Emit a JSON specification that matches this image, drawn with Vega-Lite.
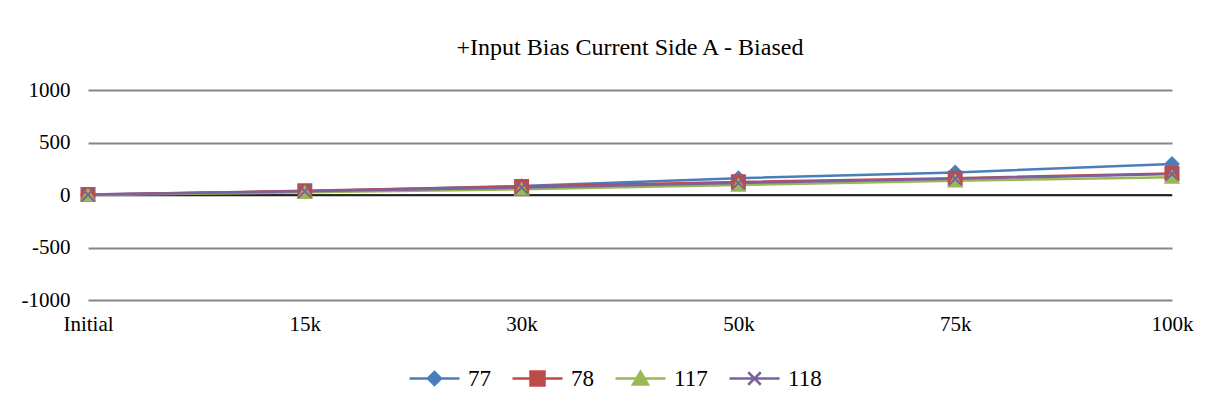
{
  "$schema": "https://vega.github.io/schema/vega-lite/v6.json",
  "width": 1084,
  "height": 210,
  "autosize": {"type": "none"},
  "padding": {"left": 88, "top": 90, "right": 40, "bottom": 108},
  "background": "white",
  "title": {"text": "+Input Bias Current Side A - Biased", "font": "Times New Roman", "fontSize": 24, "fontWeight": "normal", "color": "black", "anchor": "middle", "frame": "group", "offset": 19},
  "config": {"view": {"stroke": null}},
  "data": {"values": [
    {"stage": "Initial", "series": "77", "v": 5},
    {"stage": "15k", "series": "77", "v": 35},
    {"stage": "30k", "series": "77", "v": 85},
    {"stage": "50k", "series": "77", "v": 160},
    {"stage": "75k", "series": "77", "v": 215},
    {"stage": "100k", "series": "77", "v": 295},
    {"stage": "Initial", "series": "78", "v": 5},
    {"stage": "15k", "series": "78", "v": 40},
    {"stage": "30k", "series": "78", "v": 80},
    {"stage": "50k", "series": "78", "v": 125},
    {"stage": "75k", "series": "78", "v": 160},
    {"stage": "100k", "series": "78", "v": 205},
    {"stage": "Initial", "series": "117", "v": 0},
    {"stage": "15k", "series": "117", "v": 25},
    {"stage": "30k", "series": "117", "v": 55},
    {"stage": "50k", "series": "117", "v": 95},
    {"stage": "75k", "series": "117", "v": 135},
    {"stage": "100k", "series": "117", "v": 170},
    {"stage": "Initial", "series": "118", "v": 3},
    {"stage": "15k", "series": "118", "v": 35},
    {"stage": "30k", "series": "118", "v": 72},
    {"stage": "50k", "series": "118", "v": 115},
    {"stage": "75k", "series": "118", "v": 155},
    {"stage": "100k", "series": "118", "v": 200}
  ]},
  "resolve": {"scale": {"shape": "independent", "fill": "independent", "stroke": "independent"}},
  "layer": [
    {
      "data": {"values": [{"z": 0}]},
      "mark": {"type": "rule", "color": "black", "strokeWidth": 1.5},
      "encoding": {
        "y": {"field": "z", "type": "quantitative", "scale": {"domain": [-1000, 1000], "nice": false, "zero": false},
          "axis": {"values": [-1000, -500, 0, 500, 1000], "labelExpr": "datum.value < 0 ? '-' + abs(datum.value) : '' + datum.value", "grid": true, "gridColor": "#868686", "gridWidth": 2, "domain": false, "ticks": false, "tickSize": 0, "labelPadding": 18, "labelFont": "Times New Roman", "labelFontSize": 21, "labelColor": "black", "title": null}}
      }
    },
    {
      "mark": {"type": "line", "strokeWidth": 2.5},
      "encoding": {
        "x": {"field": "stage", "type": "ordinal", "sort": ["Initial", "15k", "30k", "50k", "75k", "100k"], "scale": {"type": "point", "padding": 0},
          "axis": {"domain": false, "ticks": false, "tickSize": 0, "grid": false, "labelAngle": 0, "labelPadding": 13, "labelFont": "Times New Roman", "labelFontSize": 21, "labelColor": "black", "title": null}},
        "y": {"field": "v", "type": "quantitative"},
        "color": {"field": "series", "type": "nominal", "scale": {"domain": ["77", "78", "117", "118"], "range": ["#4A7EBB", "#BE4B48", "#98B954", "#7D60A0"]}, "legend": null}
      }
    },
    {
      "mark": {"type": "point", "filled": true, "size": 170, "strokeWidth": 2, "opacity": 1},
      "encoding": {
        "x": {"field": "stage", "type": "ordinal", "sort": ["Initial", "15k", "30k", "50k", "75k", "100k"]},
        "y": {"field": "v", "type": "quantitative"},
        "color": {"field": "series", "type": "nominal", "legend": null},
        "stroke": {"field": "series", "type": "nominal", "scale": {"domain": ["77", "78", "117", "118"], "range": ["#4A7EBB", "#BE4B48", "#98B954", "#7D60A0"]}, "legend": null},
        "shape": {"field": "series", "type": "nominal", "scale": {"domain": ["77", "78", "117", "118"], "range": ["diamond", "square", "triangle-up", "M-1,-1L1,1M-1,1L1,-1"]}, "legend": null}
      }
    },
    {
      "mark": {"type": "point", "opacity": 0},
      "encoding": {
        "x": {"field": "stage", "type": "ordinal", "sort": ["Initial", "15k", "30k", "50k", "75k", "100k"]},
        "y": {"field": "v", "type": "quantitative"},
        "fill": {"field": "series", "type": "nominal", "scale": {"domain": ["77", "78", "117", "118"], "range": ["#4A7EBB", "#BE4B48", "#98B954", "#7D60A0"]}},
        "stroke": {"field": "series", "type": "nominal", "scale": {"domain": ["77", "78", "117", "118"], "range": ["#4A7EBB", "#BE4B48", "#98B954", "#7D60A0"]}},
        "shape": {"field": "series", "type": "nominal",
          "scale": {"domain": ["77", "78", "117", "118"], "range": [
            "M-1,0L1,0M-0.26,0L0,-0.26L0.26,0L0,0.26Z",
            "M-1,0L1,0M-0.28,-0.28L0.28,-0.28L0.28,0.28L-0.28,0.28Z",
            "M-1,0L1,0M0,-0.27L0.3,0.24L-0.3,0.24Z",
            "M-1,0L1,0M-0.25,-0.25L0.25,0.25M-0.25,0.25L0.25,-0.25"]},
          "legend": {"orient": "none", "legendX": 320, "legendY": 262, "direction": "horizontal", "title": null, "padding": 0, "gridAlign": "none",
            "symbolSize": 2500, "symbolStrokeWidth": 2.5, "symbolOpacity": 1,
            "labelFont": "Times New Roman", "labelFontSize": 23, "labelColor": "black", "labelOffset": 7, "columnPadding": 16}}
      }
    }
  ]
}
